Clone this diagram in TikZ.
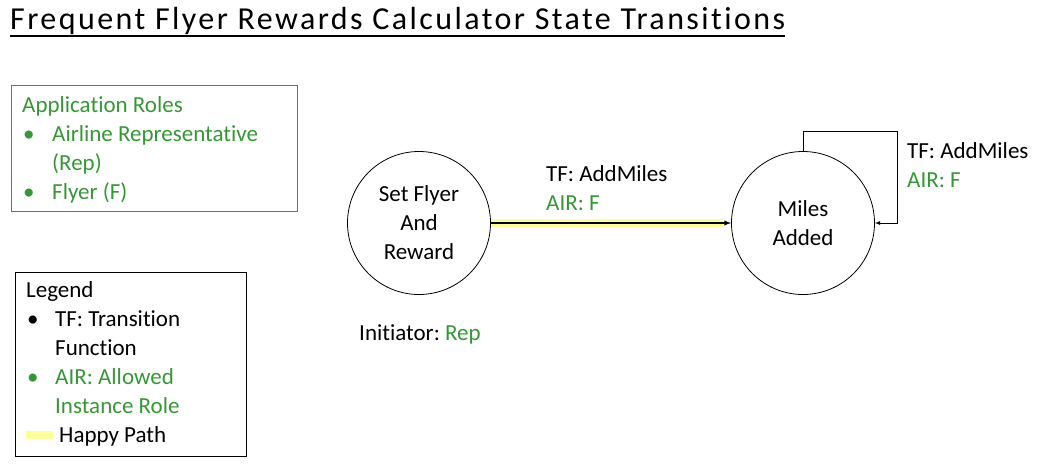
\documentclass[tikz,border=0pt]{standalone}
\usepackage{fontspec}
\setmainfont{Carlito}[RawFeature={-liga;-clig;-calt}]
\usepackage{xcolor}
\usepackage{tikz}
\usetikzlibrary{positioning}
\definecolor{rolegreen}{RGB}{52,152,52}
\definecolor{happy}{RGB}{255,255,153}

\begin{document}
\begin{tikzpicture}[
x=1pt,y=-1pt,
every node/.style={anchor=base west,inner sep=0pt,font=\fontsize{23}{29}\selectfont},
state/.style={circle,draw,line width=.8pt,minimum size=143pt,anchor=center,align=center},
box/.style={draw,line width=.8pt,anchor=north west,inner sep=0pt},
-->/.style={->,line width=1.3pt,>=latex},
]
\useasboundingbox (0,0) rectangle (1048,474);

% title
\node (title) at (10,29) {\fontsize{32}{38}\selectfont\addfontfeature{LetterSpace=7.6}Frequent Flyer Rewards Calculator State Transitions};
\draw[line width=1.6pt] ([yshift=-7pt]title.base west) -- ([yshift=-7pt]title.base east);

% application roles
\node[box,draw=rolegreen,minimum width=286pt,minimum height=126pt] (roles) at (11,85) {};
\node[text=rolegreen] (r0) at (22,112) {Application Roles};
\node[text=rolegreen] (rb1) at (23,141) {\textbullet};
\node[text=rolegreen] (r1) at (52,141) {Airline Representative};
\node[text=rolegreen] (r2) at (52,170) {(Rep)};
\node[text=rolegreen] (rb3) at (23,199) {\textbullet};
\node[text=rolegreen] (r3) at (52,199) {Flyer (F)};

% legend
\node[box,minimum width=231pt,minimum height=184pt] (legend) at (15,272) {};
\node (l0) at (26,297) {Legend};
\node (lb1) at (27,326) {\textbullet};
\node (l1) at (55,326) {TF: Transition};
\node (l2) at (55,355) {Function};
\node[text=rolegreen] (lb3) at (27,384) {\textbullet};
\node[text=rolegreen] (l3) at (55,384) {AIR: Allowed};
\node[text=rolegreen] (l4) at (55,413) {Instance Role};
\coordinate (h1) at (26,435);
\coordinate (h2) at (53,435);
\draw[happy,line width=8pt] (h1) -- (h2);
\node (l5) at (59,442) {Happy Path};

% states
\node[state] (s1) at (419,223) {Set Flyer\\And\\Reward};
\node[state] (s2) at (803,223) {Miles\\Added};
\node (init) at (359,340) {Initiator:~\textcolor{rolegreen}{Rep}};

% transitions
\draw[happy,line width=8pt] (s1.east) -- ([xshift=-8pt]s2.west);
\draw[-->] (s1.east) -- (s2.west);
\node (t1) at (546,181) {TF: AddMiles};
\node[text=rolegreen] (a1) at (546,210) {AIR: F};

\coordinate (c1) at (803,131);
\coordinate (c2) at (897,131);
\coordinate (c3) at (897,223);
\draw[->,line width=.8pt,>=latex] (s2.north) -- (c1) -- (c2) -- (c3) -- (s2.east);
\node (t2) at (907,158) {TF: AddMiles};
\node[text=rolegreen] (a2) at (907,187) {AIR: F};

\end{tikzpicture}
\end{document}
